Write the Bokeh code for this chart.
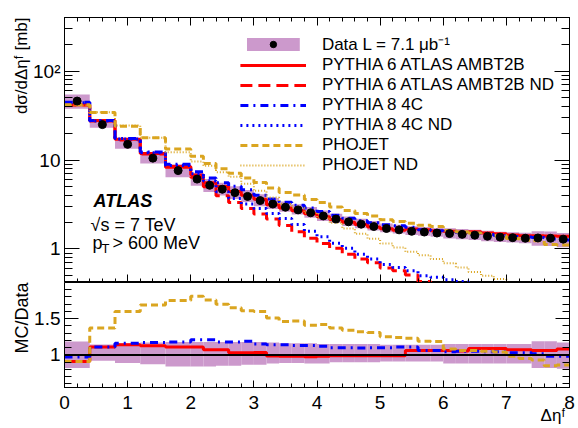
import math
from bokeh.plotting import figure
from bokeh.models import (LinearAxis, LogAxis, FixedTicker, CustomJSTickFormatter,
                          Label, Legend, LegendItem, Span, Range1d, Title)
from bokeh.layouts import column
from bokeh.embed import file_html
from bokeh.resources import INLINE

FONT = "Liberation Sans"

# ---------------- data ----------------
bin_edges = [0.0, 0.4, 0.8, 1.2, 1.6, 2.0, 2.2, 2.4, 2.6, 2.8, 3.0, 3.2, 3.4, 3.6, 3.8,
             4.0, 4.2, 4.4, 4.6, 4.8, 5.0, 5.2, 5.4, 5.6, 5.8, 6.0, 6.2, 6.4, 6.6, 6.8,
             7.0, 7.2, 7.4, 7.6, 7.8, 8.0]

data_xsec = [46, 25, 15, 10.5, 7.6, 6.1, 5.2, 4.7, 4.3, 3.9, 3.5, 3.2, 2.95, 2.75, 2.55,
             2.35, 2.17, 2.02, 1.90, 1.79, 1.70, 1.64, 1.58, 1.55, 1.51, 1.49, 1.46, 1.43,
             1.39, 1.36, 1.34, 1.32, 1.33, 1.32, 1.29]
data_err_up = [0.185, 0.145, 0.16, 0.17, 0.18, 0.18, 0.18, 0.18, 0.18, 0.18, 0.18, 0.17,
               0.16, 0.16, 0.16, 0.15, 0.15, 0.15, 0.15, 0.15, 0.14, 0.14, 0.14, 0.14, 0.14,
               0.15, 0.15, 0.15, 0.15, 0.15, 0.15, 0.15, 0.19, 0.19, 0.17]
data_err_dn = [0.18, 0.08, 0.11, 0.13, 0.16, 0.16, 0.16, 0.15, 0.15, 0.135, 0.135, 0.12,
               0.11, 0.11, 0.12, 0.12, 0.10, 0.10, 0.10, 0.10, 0.09, 0.09, 0.09, 0.09, 0.09,
               0.12, 0.12, 0.12, 0.12, 0.12, 0.12, 0.12, 0.18, 0.18, 0.19]

ratio_py6 = [0.91, 1.11, 1.14, 1.125, 1.11, 1.11, 1.07, 1.07, 1.03, 1.03, 1.035, 0.985,
             0.98, 0.98, 0.975, 0.98, 0.99, 0.99, 0.99, 0.99, 0.99, 0.99, 1.06, 1.06, 1.06,
             1.06, 1.055, 1.09, 1.09, 1.09, 1.07, 1.07, 1.06, 1.06, 1.08]
ratio_py8 = [0.97, 1.11, 1.16, 1.17, 1.18, 1.21, 1.21, 1.18, 1.18, 1.19, 1.15, 1.14, 1.14,
             1.13, 1.13, 1.12, 1.10, 1.10, 1.095, 1.10, 1.10, 1.11, 1.11, 1.06, 1.06, 1.045,
             1.05, 1.05, 1.045, 1.045, 1.03, 1.03, 1.015, 0.98, 0.98]
ratio_phojet = [0.91, 1.37, 1.60, 1.69, 1.75, 1.81, 1.76, 1.70, 1.65, 1.61, 1.60, 1.51, 1.46,
                1.47, 1.41, 1.42, 1.37, 1.34, 1.32, 1.31, 1.25, 1.24, 1.23, 1.19, 1.185, 1.08,
                1.06, 1.06, 1.05, 1.04, 0.98, 0.95, 0.93, 0.85, 0.86]

py6_nd = [41.5, 27.5, 16.8, 11.7, 8.3, 6.4, 5.0, 3.96, 3.34, 2.86, 2.47, 2.17, 1.84, 1.56,
          1.32, 1.15, 1.02, 0.87, 0.77, 0.70, 0.61, 0.57, 0.51, 0.43, 0.39, 0.36, 0.34, 0.31,
          0.29, 0.27, 0.25, 0.23, 0.22, 0.21, 0.20]
py8_nd = [44.0, 27.5, 17.2, 12.1, 8.7, 7.0, 5.8, 4.4, 3.7, 3.2, 2.85, 2.5, 2.2, 1.88, 1.58,
          1.37, 1.16, 1.02, 0.87, 0.77, 0.67, 0.62, 0.57, 0.50, 0.48, 0.45, 0.43, 0.40, 0.38,
          0.36, 0.34, 0.32, 0.31, 0.30, 0.29]
phojet_nd = [41.0, 34.5, 24.5, 17.8, 12.2, 9.6, 8.6, 7.3, 6.5, 5.4, 4.5, 3.8, 3.2, 2.9, 2.55,
             2.25, 1.97, 1.70, 1.48, 1.30, 1.15, 1.04, 0.93, 0.85, 0.77, 0.69, 0.62, 0.55,
             0.50, 0.46, 0.41, 0.38, 0.35, 0.33, 0.31]

legend_labels = ["Data L = 7.1 \u03bcb\u207b\u00b9", "PYTHIA 6 ATLAS AMBT2B",
                 "PYTHIA 6 ATLAS AMBT2B ND", "PYTHIA 8 4C", "PYTHIA 8 4C ND",
                 "PHOJET", "PHOJET ND"]
y_title_top = "d\u03c3/d\u0394\u03b7\u1da0 [mb]"
y_title_ratio = "MC/Data"
x_title = "\u0394\u03b7\u1da0"

x_major = [0, 1, 2, 3, 4, 5, 6, 7, 8]
x_minor = [round(0.2 * i, 1) for i in range(41)]
top_y_major = [1, 10, 100]
top_y_minor = [0.5, 0.6, 0.7, 0.8, 0.9, 2, 3, 4, 5, 6, 7, 8, 9,
               20, 30, 40, 50, 60, 70, 80, 90, 200, 300, 400]
ratio_y_major = [1, 1.5]
ratio_y_minor = [round(0.6 + 0.1 * i, 1) for i in range(14)]

# ---------------- derived ----------------
lefts = bin_edges[:-1]
rights = bin_edges[1:]
centers = [(a + b) / 2 for a, b in zip(lefts, rights)]
band_hi = [d * (1 + u) for d, u in zip(data_xsec, data_err_up)]
band_lo = [d * (1 - e) for d, e in zip(data_xsec, data_err_dn)]
r_hi = [1 + u for u in data_err_up]
r_lo = [1 - e for e in data_err_dn]
py6 = [d * r for d, r in zip(data_xsec, ratio_py6)]
py8 = [d * r for d, r in zip(data_xsec, ratio_py8)]
phojet = [d * r for d, r in zip(data_xsec, ratio_phojet)]


def stepy(v):
    return list(v) + [v[-1]]


# ---------------- layout ----------------
W = 578
LEFT, RIGHT = 64, 9
FRAME_W = W - LEFT - RIGHT
TOP_B = 17
TOP_H = 282
TOP_FH = TOP_H - TOP_B
BOT_B = 37
BOT_H = 145
XMIN, XMAX = 0, 8
YT_MIN, YT_MAX = 0.42, 400
YR_MIN, YR_MAX = 0.55, 2.0
FX0, FT0 = LEFT, TOP_B  # page pixel positions of the top frame


def xd(px):
    return XMIN + (px - FX0) / FRAME_W * (XMAX - XMIN)


def yt(py):
    lo, hi = math.log10(YT_MIN), math.log10(YT_MAX)
    return 10 ** (hi - (py - FT0) / TOP_FH * (hi - lo))


BLANK = CustomJSTickFormatter(code="return '';")


def style_axis(ax, major_in, minor_in, labels=True, size="19px", standoff=3):
    ax.axis_line_color = "black"
    ax.axis_line_width = 1
    ax.major_tick_line_color = "black"
    ax.minor_tick_line_color = "black"
    ax.major_tick_in = major_in
    ax.major_tick_out = 0
    ax.minor_tick_in = minor_in
    ax.minor_tick_out = 0
    ax.major_label_text_font = FONT
    ax.major_label_text_color = "black"
    if labels:
        ax.major_label_text_font_size = size
        ax.major_label_standoff = standoff
    else:
        ax.formatter = BLANK
        ax.major_label_text_font_size = "1px"
        ax.major_label_standoff = 0


def side_title(fig, txt, size):
    fig.add_layout(Title(text=txt, align="right", text_font=FONT,
                         text_font_size=f"{size}px", text_font_style="normal",
                         text_color="black", standoff=0), "left")


def text(fig, px, py, yfunc, s, size, **kw):
    fig.add_layout(Label(x=xd(px), y=yfunc(py), text=s, text_font=FONT,
                         text_font_size=f"{size}px", text_color="black", **kw))


RED, BLUE, GOLD, BAND = "#ff0000", "#0000ff", "#daa520", "#cc99cc"

# ---------------- top panel ----------------
top = figure(width=W, height=TOP_H, x_range=Range1d(XMIN, XMAX),
             y_range=Range1d(YT_MIN, YT_MAX), y_axis_type="log",
             output_backend="svg", toolbar_location=None,
             min_border_left=LEFT, min_border_right=RIGHT,
             min_border_top=TOP_B, min_border_bottom=0)
top.grid.visible = False
top.outline_line_color = "black"
top.outline_line_alpha = 1

xt = top.xaxis[0]
xt.ticker = FixedTicker(ticks=x_major, minor_ticks=x_minor)
style_axis(xt, 8, 4, labels=False)
ya = top.yaxis[0]
ya.ticker = FixedTicker(ticks=top_y_major, minor_ticks=top_y_minor)
ya.formatter = CustomJSTickFormatter(code="return tick > 50 ? '10\u00b2' : String(Math.round(tick));")
style_axis(ya, 15, 8, labels=True, size="19px", standoff=4)
side_title(top, y_title_top, 17)

ax_above = LinearAxis(ticker=FixedTicker(ticks=x_major, minor_ticks=x_minor))
style_axis(ax_above, 8, 4, labels=False)
top.add_layout(ax_above, "above")
ax_right = LogAxis(ticker=FixedTicker(ticks=top_y_major, minor_ticks=top_y_minor))
style_axis(ax_right, 15, 8, labels=False)
top.add_layout(ax_right, "right")

band_r = top.quad(left=lefts, right=rights, bottom=band_lo, top=band_hi,
                  fill_color=BAND, line_color=None)
r_py6 = top.step(bin_edges, stepy(py6), mode="after", line_color=RED, line_width=3)
r_py6nd = top.step(bin_edges, stepy(py6_nd), mode="after", line_color=RED, line_width=3,
                   line_dash="12 6")
r_py8 = top.step(bin_edges, stepy(py8), mode="after", line_color=BLUE, line_width=3,
                 line_dash="8 5 2 5")
r_py8nd = top.step(bin_edges, stepy(py8_nd), mode="after", line_color=BLUE, line_width=3,
                   line_dash="2 4")
r_ph = top.step(bin_edges, stepy(phojet), mode="after", line_color=GOLD, line_width=3,
                line_dash="7 4")
r_phnd = top.step(bin_edges, stepy(phojet_nd), mode="after", line_color=GOLD, line_width=2,
                  line_dash="1 2")
pts_r = top.scatter(centers, data_xsec, size=8, color="black")

legend = Legend(items=[
    LegendItem(label=legend_labels[0], renderers=[band_r, pts_r]),
    LegendItem(label=legend_labels[1], renderers=[r_py6]),
    LegendItem(label=legend_labels[2], renderers=[r_py6nd]),
    LegendItem(label=legend_labels[3], renderers=[r_py8]),
    LegendItem(label=legend_labels[4], renderers=[r_py8nd]),
    LegendItem(label=legend_labels[5], renderers=[r_ph]),
    LegendItem(label=legend_labels[6], renderers=[r_phnd]),
], location="top_right", margin=15, padding=0, spacing=0,
    glyph_width=66, glyph_height=16, label_height=16, label_standoff=16,
    label_text_font=FONT, label_text_font_size="17px", label_text_color="black",
    border_line_alpha=0, background_fill_alpha=0)
top.add_layout(legend)

# annotations inside the frame
text(top, 93, 200, yt, "ATLAS", 18, text_font_style="bold italic", text_baseline="middle")
text(top, 90, 224, yt, "\u221as = 7 TeV", 18, text_baseline="middle")
text(top, 92, 242, yt, "p", 18, text_baseline="middle")
text(top, 101, 248, yt, "T", 13, text_baseline="middle")
text(top, 112, 242, yt, "> 600 MeV", 18, text_baseline="middle")

# ---------------- ratio panel ----------------
bot = figure(width=W, height=BOT_H, x_range=top.x_range,
             y_range=Range1d(YR_MIN, YR_MAX),
             output_backend="svg", toolbar_location=None,
             min_border_left=LEFT, min_border_right=RIGHT,
             min_border_top=0, min_border_bottom=BOT_B)
bot.grid.visible = False
bot.outline_line_color = "black"
bot.outline_line_alpha = 1

xb = bot.xaxis[0]
xb.ticker = FixedTicker(ticks=x_major, minor_ticks=x_minor)
style_axis(xb, 7, 4, labels=True, size="19px", standoff=8)
# axis title at the right end (label is centred on the axis end, so pad it with no-break spaces)
xb.axis_label = x_title + "\u00a0" * 7
xb.axis_label_text_font = FONT
xb.axis_label_text_font_size = "17px"
xb.axis_label_text_font_style = "normal"
xb.axis_label_text_color = "black"
xb.axis_label_standoff = -6
if "axis_label_align" in xb.properties():
    xb.axis_label_align = "end"

yb = bot.yaxis[0]
yb.ticker = FixedTicker(ticks=ratio_y_major, minor_ticks=ratio_y_minor)
yb.formatter = CustomJSTickFormatter(code="return tick == 1 ? '1' : tick.toFixed(1);")
style_axis(yb, 14, 7, labels=True, size="19px", standoff=4)
side_title(bot, y_title_ratio, 18)
yb_right = LinearAxis(ticker=FixedTicker(ticks=ratio_y_major, minor_ticks=ratio_y_minor))
style_axis(yb_right, 14, 7, labels=False)
bot.add_layout(yb_right, "right")

bot.quad(left=lefts, right=rights, bottom=r_lo, top=r_hi, fill_color=BAND, line_color=None)
bot.add_layout(Span(location=1, dimension="width", line_color="black", line_width=2))
bot.step(bin_edges, stepy(ratio_py6), mode="after", line_color=RED, line_width=3)
bot.step(bin_edges, stepy(ratio_py8), mode="after", line_color=BLUE, line_width=3,
         line_dash="8 5 2 5")
bot.step(bin_edges, stepy(ratio_phojet), mode="after", line_color=GOLD, line_width=3,
         line_dash="7 4")

layout = column(top, bot, spacing=0)
open("out.html", "w").write(file_html(layout, INLINE))
